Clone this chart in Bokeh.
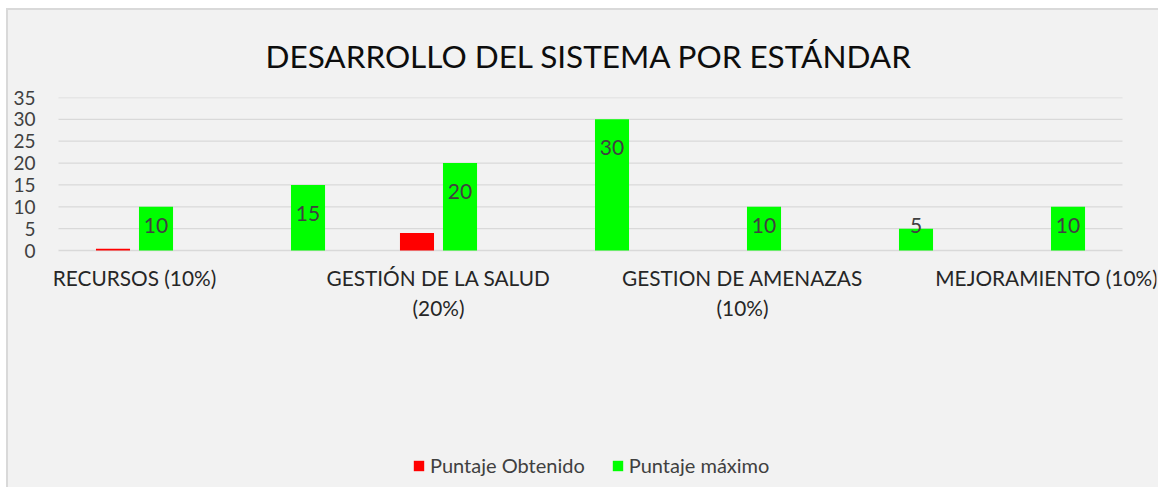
import numpy as np
from bokeh.plotting import figure
from bokeh.models import (ColumnDataSource, FixedTicker, Legend, LegendItem,
                          CustomJSTickFormatter, Range1d)
from bokeh.core.properties import value
from bokeh.transform import dodge
from bokeh.embed import file_html
from bokeh.resources import INLINE

# ---- data ----
categories = [
    "RECURSOS (10%)",
    "GESTIÓN INTEGRAL DEL SG-SST (15%)",
    "GESTIÓN DE LA SALUD (20%)",
    "GESTIÓN DE PELIGROS Y RIESGOS (30%)",
    "GESTION DE AMENAZAS (10%)",
    "VERIFICACIÓN DEL SG-SST (5%)",
    "MEJORAMIENTO (10%)",
]
# labels displayed on the axis (Excel skipped every other one)
shown_labels = [
    "RECURSOS (10%)",
    "",
    "GESTIÓN DE LA SALUD\n(20%)",
    "",
    "GESTION DE AMENAZAS\n(10%)",
    "",
    "MEJORAMIENTO (10%)",
]
puntaje_obtenido = [0.4, 0, 4, 0, 0, 0, 0]
puntaje_maximo = [10, 15, 20, 30, 10, 5, 10]
y_ticks = [0, 5, 10, 15, 20, 25, 30, 35]
Y_MAX = 35

FONT = "Lato"
BG = "#f2f2f2"
GRID = "#d9d9d9"
label_y = [max(v - 6.5, 5.7) for v in puntaje_maximo]

# ---- layout (pixels) ----
W, H = 1152, 479
MB_LEFT, MB_TOP = 32, 87
CAT_PX = 152.0                    # width of one category slot
PAD_L_PX, PAD_R_PX = 18, 34       # frame space outside the category slots
AXIS_H = 153                      # pixels from 0 to 35
frame_h = H - MB_TOP              # frame reaches the bottom; x axis pinned at y=0
y_low = -(frame_h - AXIS_H) * Y_MAX / AXIS_H
n = len(categories)
x_start = -PAD_L_PX / CAT_PX
x_end = n + PAD_R_PX / CAT_PX
MB_RIGHT = W - MB_LEFT - int(round(n * CAT_PX + PAD_L_PX + PAD_R_PX))

x_pos = np.arange(n) + 0.5

src = ColumnDataSource(dict(
    x=x_pos,
    cat=categories,
    obt=puntaje_obtenido,
    mx=puntaje_maximo,
    mx_txt=[str(v) for v in puntaje_maximo],
    lab_y=label_y,
))

p = figure(
    x_range=Range1d(x_start, x_end), y_range=Range1d(y_low, Y_MAX),
    width=W, height=H,
    output_backend="svg", toolbar_location=None,
    min_border_left=MB_LEFT, min_border_right=MB_RIGHT, min_border_top=MB_TOP,
    min_border_bottom=0,
    background_fill_alpha=0, border_fill_alpha=0,
)
p.styles = {"border-left": "2px solid #d9d9d9", "border-top": "2px solid #d9d9d9",
            "margin-left": "6px", "margin-top": "8px", "background-color": BG}
p.outline_line_color = None

p.title.text = "DESARROLLO DEL SISTEMA POR ESTÁNDAR"
p.title.text_font = FONT
p.title.text_font_size = "31.5px"
p.title.text_font_style = "normal"
p.title.text_color = "#0d0d0d"
p.title.align = "left"
p.title.offset = 225
p.title.standoff = 46

# gridlines spanning only the category slots
p.segment(x0=0, x1=n, y0=y_ticks, y1=y_ticks, line_color=GRID, line_width=1.3)

r1 = p.vbar(x=dodge("x", -0.1415), top="obt", width=0.224,
            source=src, fill_color="#ff0000", line_color=None)
r2 = p.vbar(x=dodge("x", 0.1415), top="mx", width=0.224,
            source=src, fill_color="#00ff00", line_color=None)

p.text(x=dodge("x", 0.1415), y="lab_y", text="mx_txt", source=src,
       text_align="center", text_baseline="middle", text_font_size="21px",
       text_color="#404040", text_font=value(FONT))

# axes
p.yaxis.ticker = FixedTicker(ticks=y_ticks)
p.yaxis.axis_line_color = None
p.yaxis.major_tick_line_color = None
p.yaxis.major_tick_out = 0
p.yaxis.minor_tick_line_color = None
p.yaxis.major_label_standoff = 5
p.yaxis.major_label_text_font = FONT
p.yaxis.major_label_text_font_size = "19px"
p.yaxis.major_label_text_color = "#404040"

p.xaxis.fixed_location = 0
p.xaxis.ticker = FixedTicker(ticks=list(x_pos))
p.xaxis.axis_line_color = None
p.xaxis.major_tick_line_color = None
p.xaxis.major_tick_out = 0
p.xaxis.minor_tick_line_color = None
p.xaxis.major_label_standoff = 14
p.xaxis.major_label_text_font = FONT
p.xaxis.major_label_text_font_size = "20.8px"
p.xaxis.major_label_text_color = "#262626"
p.xaxis.major_label_orientation = "horizontal"
p.xaxis.formatter = CustomJSTickFormatter(
    args=dict(labels=shown_labels),
    code="const i = Math.round(tick - 0.5); return (i >= 0 && i < labels.length) ? labels[i] : '';")

p.xgrid.visible = False
p.ygrid.visible = False

legend = Legend(items=[LegendItem(label="Puntaje Obtenido", renderers=[r1]),
                       LegendItem(label="Puntaje máximo", renderers=[r2])],
                orientation="horizontal", location=(372, 12),
                glyph_width=13, glyph_height=13, label_standoff=5, spacing=26,
                padding=0, margin=0, background_fill_alpha=0, border_line_color=None,
                label_text_font=FONT, label_text_font_size="20px",
                label_text_color="#404040")
p.add_layout(legend, "center")

open("out.html", "w").write(file_html(p, INLINE))
